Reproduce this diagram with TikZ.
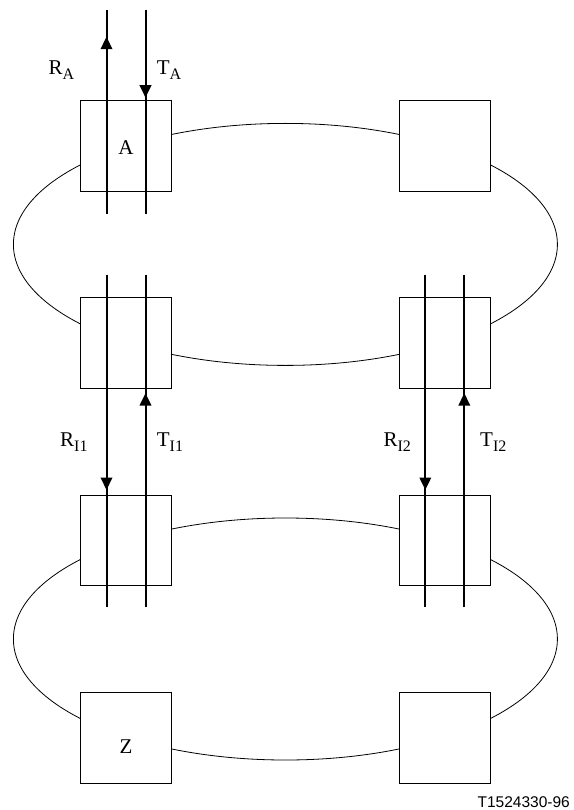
\documentclass[tikz,border=0pt]{standalone}
\usepackage{fontspec}
\setmainfont{Liberation Serif}
\newfontfamily\tagfont{Liberation Sans}
\usepackage{tikz}
\usetikzlibrary{arrows.meta,positioning,calc,backgrounds}
\newcommand{\sublbl}[2]{#1\raisebox{-5pt}{\fontsize{16}{16}\selectfont #2}}

\begin{document}
\begin{tikzpicture}[x=1pt,y=-1pt,node distance=106pt and 227pt,
   box/.style={draw,line width=0.8pt,fill=white,minimum width=91pt,minimum height=90.5pt,
     inner sep=0pt,font=\fontsize{21}{24}\selectfont},
   wire/.style={line width=2pt},
   tip/.style={-{Triangle[width=11.5pt,length=12.5pt]}},
   ring/.style={line width=0.8pt},
   lbl/.style={inner sep=0pt,anchor=base west,font=\fontsize{21}{24}\selectfont}]
  \useasboundingbox (0,0) rectangle (573,810);
  % the four rows of boxes
  \node[box,text height=18pt] (n11) at (126,145.75) {A};
  \node[box,right=of n11] (n12) {};
  \node[box,below=of n11] (n21) {};
  \node[box,right=of n21] (n22) {};
  \node[box,below=of n21] (n31) {};
  \node[box,right=of n31] (n32) {};
  \node[box,below=of n31,text height=31pt] (n41) {Z};
  \node[box,right=of n41] (n42) {};
  % the two rings
  \begin{pgfonlayer}{background}
    \draw[ring] ($(n11)!0.5!(n22)$) ellipse [x radius=272pt,y radius=121pt];
    \draw[ring] ($(n31)!0.5!(n42)$) ellipse [x radius=272pt,y radius=121pt];
  \end{pgfonlayer}
  % wires at A
  \coordinate (ra0) at ($(n11.south)+(-19.5,22.3)$);
  \coordinate (ta0) at ($(n11.south)+(19.5,22.3)$);
  \coordinate (ra1) at (ra0 |- 0,10);
  \coordinate (ta1) at (ta0 |- 0,10);
  \draw[wire] (ra0) -- (ra1);
  \draw[wire] (ta1) -- (ta0);
  \draw[wire,tip] (ra0) -- (ra0 |- 0,36.7);
  \draw[wire,tip] (ta1) -- ($(ta0 |- n11.north)+(0,-2.4)$);
  % wires between the rings
  \foreach \c/\d in {1/n21,2/n22}{
    \coordinate (r\c a) at ($(\d.north)+(-19.5,-22.7)$);
    \coordinate (t\c a) at ($(\d.north)+(19.5,-22.7)$);
    \coordinate (r\c b) at ($(r\c a)+(0,332.7)$);
    \coordinate (t\c b) at ($(t\c a)+(0,332.7)$);
    \draw[wire] (r\c a) -- (r\c b);
    \draw[wire] (t\c a) -- (t\c b);
    \draw[wire,tip] (r\c a) -- ($(r\c a)+(0,215.3)$);
    \draw[wire,tip] (t\c b) -- ($(t\c a |- \d.south)+(0,4.4)$);
  }
  % labels
  \node[lbl] (lra) at (48.3,75) {\sublbl{R}{A}};
  \node[lbl] (lta) at (156.7,75) {\sublbl{T}{A}};
  \node[lbl] (lr1) at (60,446.7) {\sublbl{R}{I1}};
  \node[lbl] (lt1) at (156.7,446.7) {\sublbl{T}{I1}};
  \node[lbl] (lr2) at (383.3,446.7) {\sublbl{R}{I2}};
  \node[lbl] (lt2) at (480,446.7) {\sublbl{T}{I2}};
  \node[inner sep=0pt,anchor=base east,font=\tagfont\fontsize{15.5}{18}\selectfont] (tag)
       at (570,807.3) {T1524330-96};
\end{tikzpicture}
\end{document}
